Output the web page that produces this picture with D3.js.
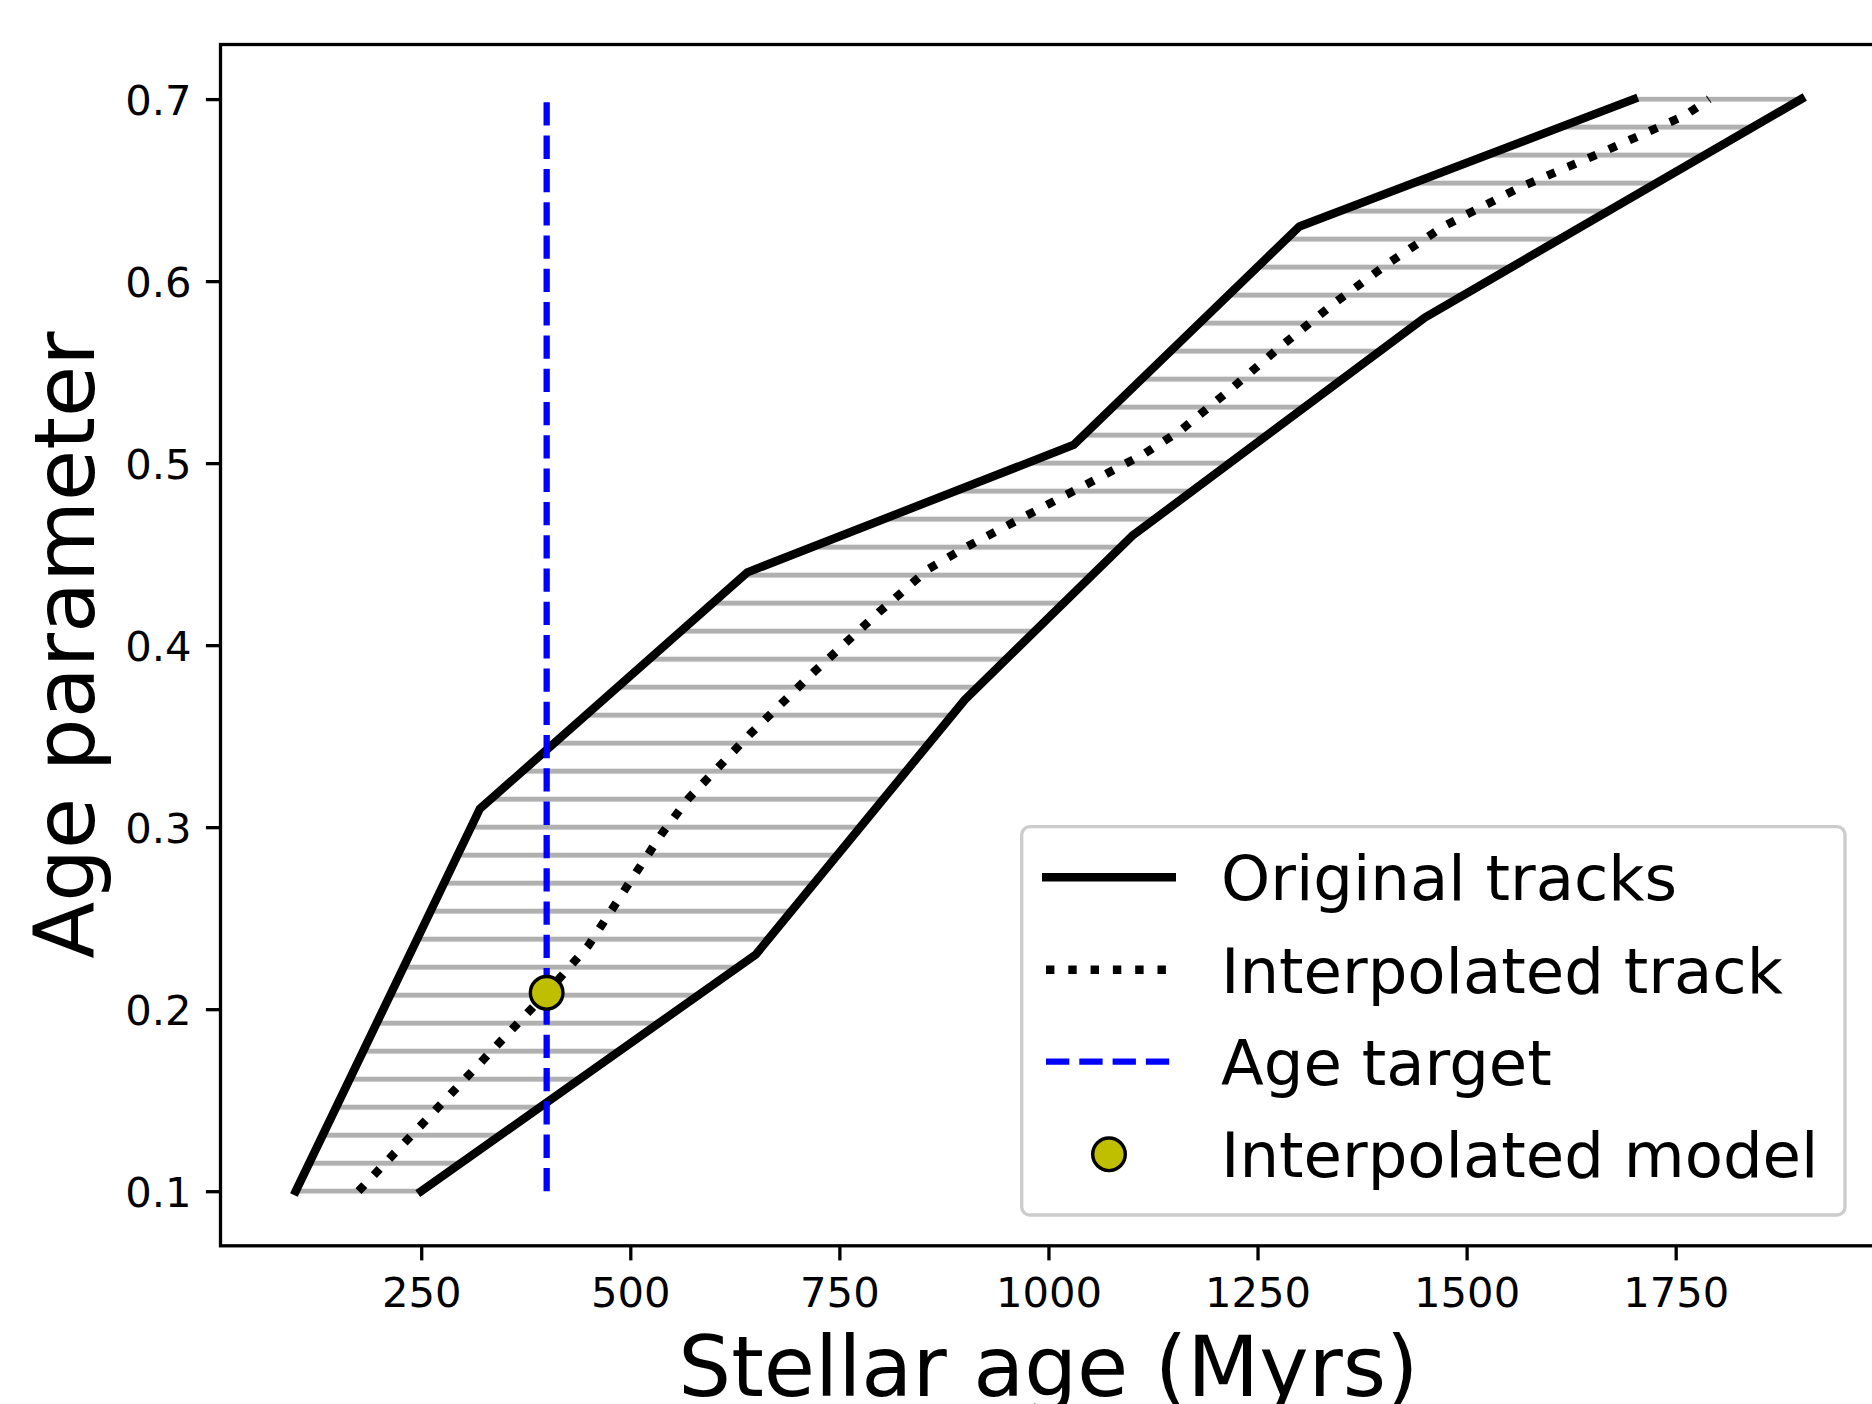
<!DOCTYPE html>
<html>
<head>
<meta charset="utf-8">
<script src="https://cdn.jsdelivr.net/npm/d3@7"></script>
<style>
  body { margin: 0; background: #fff; }
  svg { display: block; font-family: "DejaVu Sans", sans-serif; }
</style>
</head>
<body>
<div id="chart"></div>
<script>
// track data (age in Myrs, age parameter)
const leftAge = [100, 320, 640, 1030, 1300, 1700];
const leftParam = [0.10, 0.31, 0.44, 0.51, 0.63, 0.70];
const rightAge = [250, 650, 900, 1100, 1450, 1900];
const rightParam = [0.10, 0.23, 0.37, 0.46, 0.58, 0.70];

const interpAge = [175, 270, 400, 450, 494, 537, 570, 643, 719, 797, 857, 902, 973, 1044,
  1114, 1158, 1219, 1280, 1342, 1407, 1472, 1566, 1663, 1761, 1790];
const interpParam = [0.100, 0.146, 0.209, 0.235, 0.266, 0.296, 0.316, 0.351, 0.385, 0.418,
  0.442, 0.454, 0.471, 0.488, 0.505, 0.518, 0.541, 0.565, 0.588, 0.610, 0.630, 0.652, 0.671, 0.691, 0.700];

const targetAge = 400;
const targetRange = [0.1, 0.7];
const modelAge = 400;
const modelParam = 0.209;

const xTicks = [250, 500, 750, 1000, 1250, 1500, 1750];
const yTicks = [0.1, 0.2, 0.3, 0.4, 0.5, 0.6, 0.7];
const legendLabels = ["Original tracks", "Interpolated track", "Age target", "Interpolated model"];

// figure setup
var W = 1872, H = 1404;
var svg = d3.select("#chart").append("svg")
    .attr("width", W)
    .attr("height", H);

var x = d3.scaleLinear().domain([10, 1990]).range([220.5, 1876.4]);
var y = d3.scaleLinear().domain([0.07, 0.73]).range([1245.8, 44.5]);

var leftPts = leftAge.map((a, i) => [a, leftParam[i]]);
var rightPts = rightAge.map((a, i) => [a, rightParam[i]]);
var interpPts = interpAge.map((a, i) => [a, interpParam[i]]);

var line = d3.line().x(d => x(d[0])).y(d => y(d[1]));

var defs = svg.append("defs");

// horizontal hatch pattern
var hatchGap = (y(0.1) - y(0.7)) / 39;
var pat = defs.append("pattern")
    .attr("id", "hatch")
    .attr("patternUnits", "userSpaceOnUse")
    .attr("x", 0)
    .attr("y", y(0.1) - hatchGap / 2)
    .attr("width", 20)
    .attr("height", hatchGap);
pat.append("rect")
    .attr("x", 0).attr("y", hatchGap / 2 - 2.5)
    .attr("width", 20).attr("height", 5)
    .attr("fill", "#b0b0b0");

// clip region between the two tracks
var clip = defs.append("clipPath").attr("id", "band");
clip.append("path")
    .attr("d", line(leftPts.concat(rightPts.slice().reverse())) + "Z");
[0, leftPts.length - 1].forEach(function (i) {
  clip.append("rect")
      .attr("x", x(leftPts[i][0]))
      .attr("y", y(leftPts[i][1]) - 2.6)
      .attr("width", x(rightPts[i][0]) - x(leftPts[i][0]))
      .attr("height", 5.2);
});

svg.append("rect")
    .attr("x", 0).attr("y", 0).attr("width", W).attr("height", H)
    .attr("fill", "url(#hatch)")
    .attr("clip-path", "url(#band)");

// original tracks
[leftPts, rightPts].forEach(function (pts) {
  svg.append("path")
      .attr("d", line(pts))
      .attr("fill", "none")
      .attr("stroke", "#000")
      .attr("stroke-width", 8.4)
      .attr("stroke-linecap", "square")
      .attr("stroke-linejoin", "round");
});

// interpolated track
svg.append("path")
    .attr("d", line(interpPts))
    .attr("fill", "none")
    .attr("stroke", "#000")
    .attr("stroke-width", 8.4)
    .attr("stroke-dasharray", "8.4,13.9")
    .attr("stroke-linejoin", "round");

// age target
svg.append("line")
    .attr("x1", x(targetAge)).attr("x2", x(targetAge))
    .attr("y1", y(targetRange[0])).attr("y2", y(targetRange[1]))
    .attr("stroke", "#0000ff")
    .attr("stroke-width", 6.3)
    .attr("stroke-dasharray", "23.3,10");

// interpolated model
svg.append("circle")
    .attr("cx", x(modelAge)).attr("cy", y(modelParam))
    .attr("r", 16.3)
    .attr("fill", "#bfbf00")
    .attr("stroke", "#000")
    .attr("stroke-width", 3.4);

// axes
var xAxis = svg.append("g")
    .attr("transform", "translate(0," + y(0.07) + ")")
    .call(d3.axisBottom(x).tickValues(xTicks).tickFormat(d3.format("d"))
      .tickSize(14.6).tickSizeOuter(0).tickPadding(17));
var yAxis = svg.append("g")
    .attr("transform", "translate(" + x(10) + ",0)")
    .call(d3.axisLeft(y).tickValues(yTicks).tickFormat(d3.format(".1f"))
      .tickSize(14.6).tickSizeOuter(0).tickPadding(14.4));

[xAxis, yAxis].forEach(function (g) {
  g.select(".domain").remove();
  g.selectAll(".tick line").attr("stroke", "#000").attr("stroke-width", 3.3);
  g.selectAll(".tick text")
      .attr("fill", "#000")
      .style("font-family", "DejaVu Sans")
      .style("font-size", "41.7px");
});
yAxis.selectAll(".tick text").attr("dy", "0.365em");

// spines
svg.append("rect")
    .attr("x", x(10)).attr("y", y(0.73))
    .attr("width", x(1990) - x(10))
    .attr("height", y(0.07) - y(0.73))
    .attr("fill", "none")
    .attr("stroke", "#000")
    .attr("stroke-width", 3.3);

// axis labels
svg.append("text")
    .attr("x", (x(10) + x(1990)) / 2)
    .attr("y", 1396)
    .attr("text-anchor", "middle")
    .style("font-size", "83.3px")
    .text("Stellar age (Myrs)");

svg.append("text")
    .attr("transform", "translate(94," + (y(0.07) + y(0.73)) / 2 + ") rotate(-90)")
    .attr("text-anchor", "middle")
    .style("font-size", "83.3px")
    .text("Age parameter");

// legend
var leg = svg.append("g");
leg.append("rect")
    .attr("x", 1021.7).attr("y", 826.7)
    .attr("width", 823.3).attr("height", 388.3)
    .attr("rx", 8).attr("ry", 8)
    .attr("fill", "#fff").attr("fill-opacity", 0.8)
    .attr("stroke", "#cccccc")
    .attr("stroke-width", 3.3);

var rowY = [877.3, 969.7, 1061.7, 1154.3];
leg.append("line")
    .attr("x1", 1042).attr("x2", 1176)
    .attr("y1", rowY[0]).attr("y2", rowY[0])
    .attr("stroke", "#000").attr("stroke-width", 8.4);
leg.append("line")
    .attr("x1", 1046).attr("x2", 1176)
    .attr("y1", rowY[1]).attr("y2", rowY[1])
    .attr("stroke", "#000").attr("stroke-width", 8.4)
    .attr("stroke-dasharray", "8.4,13.9");
leg.append("line")
    .attr("x1", 1046).attr("x2", 1176)
    .attr("y1", rowY[2]).attr("y2", rowY[2])
    .attr("stroke", "#0000ff").attr("stroke-width", 6.3)
    .attr("stroke-dasharray", "23.3,10");
leg.append("circle")
    .attr("cx", 1109).attr("cy", rowY[3])
    .attr("r", 16.3)
    .attr("fill", "#bfbf00")
    .attr("stroke", "#000")
    .attr("stroke-width", 3.4);

leg.selectAll("text.lab")
    .data(legendLabels)
    .enter()
    .append("text")
    .attr("class", "lab")
    .attr("x", 1221)
    .attr("y", (d, i) => rowY[i] + 23)
    .style("font-size", "62.5px")
    .text(d => d);
</script>
</body>
</html>
